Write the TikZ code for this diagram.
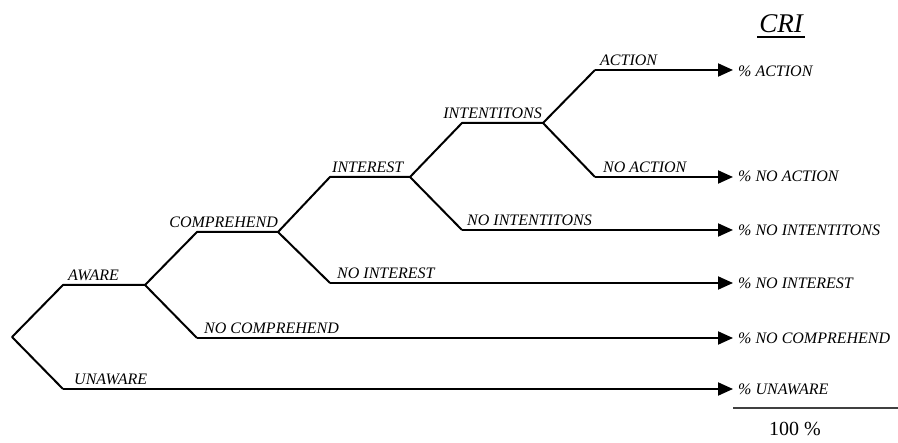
\documentclass[tikz,border=0pt]{standalone}
\usepackage{fontspec}
\setmainfont{Liberation Serif}
\usetikzlibrary{arrows.meta}
\begin{document}
\begin{tikzpicture}[x=1pt,y=-1pt,
  branch/.style={line width=2pt,line join=round},
  outarrow/.style={line width=2pt,-{Triangle[length=15pt,width=13pt]}},
  lbl/.style={inner sep=0pt,font=\itshape\fontsize{16}{16}\selectfont},
  rlbl/.style={inner sep=0pt,anchor=west,font=\itshape\fontsize{16}{16}\selectfont}]
\useasboundingbox (0,0) rectangle (898,443);
% joints
\coordinate (R) at (12,337);
\coordinate (A1) at (63,285);  \coordinate (A2) at (145,285);
\coordinate (U1) at (63,389);
\coordinate (NC1) at (197,338);
\coordinate (C1) at (197,232); \coordinate (C2) at (278,232);
\coordinate (I1) at (330,177); \coordinate (I2) at (410,177);
\coordinate (NI1) at (330,283);
\coordinate (T1) at (462,123); \coordinate (T2) at (543,123);
\coordinate (NT1) at (462,230);
\coordinate (AC1) at (595,70);
\coordinate (NA1) at (595,177);
% arrow tips
\coordinate (eAC) at (733,70);
\coordinate (eNA) at (733,177);
\coordinate (eNT) at (733,230);
\coordinate (eNI) at (733,283);
\coordinate (eNC) at (733,338);
\coordinate (eU) at (733,389);
% tree
\draw[branch] (U1) -- (R) -- (A1) -- (A2) -- (C1) -- (C2) -- (I1) -- (I2) -- (T1) -- (T2) -- (AC1);
\draw[branch] (A2) -- (NC1);
\draw[branch] (C2) -- (NI1);
\draw[branch] (I2) -- (NT1);
\draw[branch] (T2) -- (NA1);
\draw[outarrow] (AC1) -- (eAC);
\draw[outarrow] (NA1) -- (eNA);
\draw[outarrow] (NT1) -- (eNT);
\draw[outarrow] (NI1) -- (eNI);
\draw[outarrow] (NC1) -- (eNC);
\draw[outarrow] (U1) -- (eU);
% branch labels
\node[lbl,anchor=base west] (laware) at (68,281) {AWARE};
\node[lbl,anchor=base west] (lunaware) at (74,385) {UNAWARE};
\node[lbl,anchor=base west] (lnocomp) at (204,334) {NO COMPREHEND};
\node[lbl,anchor=base east] (lcomp) at (278,228) {COMPREHEND};
\node[lbl,anchor=base west] (linterest) at (332,173) {INTEREST};
\node[lbl,anchor=base west] (lnointerest) at (337,279) {NO INTEREST};
\node[lbl,anchor=base east] (lint) at (542,119) {INTENTITONS};
\node[lbl,anchor=base west] (lnoint) at (467,226) {NO INTENTITONS};
\node[lbl,anchor=base west] (laction) at (600,66) {ACTION};
\node[lbl,anchor=base west] (lnoaction) at (603,173) {NO ACTION};
% outcome labels
\node[rlbl] (rAC) at (738,71) {\% ACTION};
\node[rlbl] (rNA) at (738,176) {\% NO ACTION};
\node[rlbl] (rNT) at (738,230) {\% NO INTENTITONS};
\node[rlbl] (rNI) at (738,283) {\% NO INTEREST};
\node[rlbl] (rNC) at (738,338) {\% NO COMPREHEND};
\node[rlbl] (rU) at (738,389) {\% UNAWARE};
% CRI header
\node[inner sep=0pt,font=\itshape\fontsize{27}{27}\selectfont] (cri) at (781,24) {CRI};
\draw[line width=1.8pt] ([xshift=-2pt,yshift=-4pt]cri.south west) -- ([xshift=2pt,yshift=-4pt]cri.south east);
% total
\coordinate (sumL) at (733,408);
\coordinate (sumR) at (898,408);
\draw[line width=1.3pt,black!75] (sumL) -- (sumR);
\node[inner sep=0pt,font=\fontsize{20}{20}\selectfont] (total) at (795,429) {100 \%};
\end{tikzpicture}
\end{document}
